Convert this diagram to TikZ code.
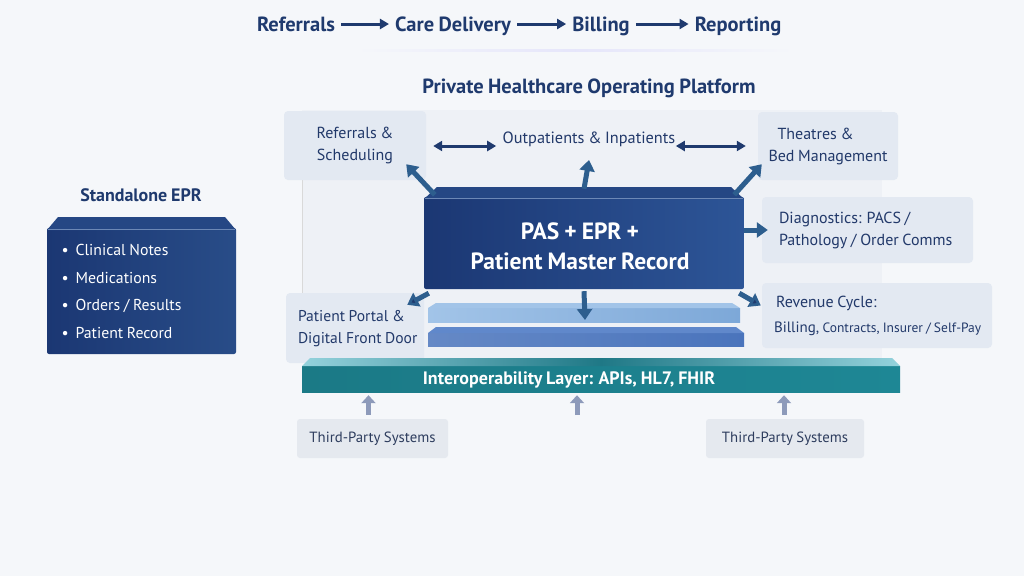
\documentclass[tikz,border=0pt]{standalone}
\usepackage{fontspec}
\setmainfont{PT Sans}[WordSpace=0.85]
\usetikzlibrary{arrows.meta,calc}
\definecolor{bgc}{HTML}{F5F7FA}
\definecolor{panelc}{HTML}{EEF1F6}
\definecolor{navy}{HTML}{1F3A6E}
\definecolor{boxc}{HTML}{E3E9F2}
\definecolor{boxtxt}{HTML}{22396A}
\definecolor{blkL}{HTML}{1B3773}
\definecolor{blkR}{HTML}{2D5597}
\definecolor{blktop}{HTML}{254784}
\definecolor{steel}{HTML}{2D5E8E}
\definecolor{slabA}{HTML}{7DA8D8}
\definecolor{slabAt}{HTML}{A2C4E8}
\definecolor{slabB}{HTML}{4A74BC}
\definecolor{slabBt}{HTML}{6088CB}
\definecolor{tealc}{HTML}{1E8795}
\definecolor{tealL}{HTML}{94D2DC}
\definecolor{tealD}{HTML}{1F7886}
\definecolor{grayarr}{HTML}{8D9ABA}
\definecolor{tpbox}{HTML}{E5E9EF}
\definecolor{tptxt}{HTML}{2E3D5E}
\begin{document}
\begin{tikzpicture}[x=1pt,y=-1pt,
  flow/.style={font=\fontsize{20.5}{22}\selectfont\bfseries, text=navy, inner sep=6pt, text height=14.5pt, text depth=0pt},
  flowarrow/.style={draw=navy, line width=3pt, -{Triangle[length=9pt,width=10pt]}},
  heading/.style={font=\fontsize{20.5}{24}\selectfont\bfseries, text=navy},
  lbox/.style={fill=boxc, rounded corners=4pt, text=boxtxt, font=\fontsize{16}{22}\selectfont},
  btxt/.style={text=boxtxt, font=\fontsize{16}{22}\selectfont, align=left, anchor=west, inner sep=0pt},
  dbl/.style={draw=navy, line width=3pt, {Triangle[length=9pt,width=10pt]}-{Triangle[length=9pt,width=10pt]}},
  thick arrow/.style={draw=steel, line width=5pt, -{Triangle[length=11pt,width=15pt]}},
  dark arrow/.style={draw=steel, line width=5pt, -{Triangle[length=11pt,width=15pt,fill=navy]}},
  gray arrow/.style={draw=grayarr, line width=5pt, -{Triangle[length=8pt,width=14pt]}},
  tp/.style={fill=tpbox, rounded corners=3pt, text=tptxt, font=\fontsize{14.8}{16}\selectfont, minimum height=39pt},
  whitebig/.style={text=white, font=\fontsize{23.5}{30}\selectfont\bfseries, align=center}
]
\useasboundingbox (0,0) rectangle (1024,576);
\fill[bgc] (0,0) rectangle (1024,576);

% top flow
\node[flow] (f1) at (296,24) {Referrals};
\node[flow] (f2) at (453,24) {Care Delivery};
\node[flow] (f3) at (601,24) {Billing};
\node[flow] (f4) at (738,24) {Reporting};
\draw[flowarrow] (f1) -- (f2);
\draw[flowarrow] (f2) -- (f3);
\draw[flowarrow] (f3) -- (f4);
\fill[left color=bgc, right color=bgc, middle color=black!18!blue!10] (355,49) rectangle (795,51.5);

\node[heading] (title) at (589,88) {Private Healthcare Operating Platform};

% platform panel
\fill[panelc] (302,110) rectangle (882,362);
\draw[black!15, line width=1pt] (302,180) -- (302,298);

% boxes around
\node[lbox, minimum width=142pt, minimum height=69pt, align=center] (ref) at (355,145.5) {Referrals \&\\Scheduling};
\node[lbox, minimum width=140pt, minimum height=68pt, align=left] (thr) at (828,146) {\hspace*{9pt}Theatres \&\\Bed Management};
\node[text=boxtxt, font=\fontsize{16.3}{20}\selectfont] (op) at (589,139) {Outpatients \& Inpatients};
\draw[dbl] ($(ref.east)+(7,0.5)$) -- ($(op.west)+(-3,7)$);
\draw[dbl] ($(op.east)+(-3,7)$) -- ($(thr.west)+(-12,0)$);

\node[lbox, minimum width=211pt, minimum height=66pt] (diag) at (867.5,230) {};
\node[btxt] (diagt) at ($(diag.west)+(17,0)$) {Diagnostics: PACS /\\Pathology / Order Comms};
\node[lbox, minimum width=138pt, minimum height=70pt] (portal) at (355,328) {};
\node[btxt, font=\fontsize{15.6}{22}\selectfont] (portalt) at ($(portal.west)+(12,1)$) {Patient Portal \&\\Digital Front Door};
\node[lbox, minimum width=230pt, minimum height=65pt] (rev) at (877,315.5) {};
\node[btxt, font=\fontsize{16}{25}\selectfont] (revt) at ($(rev.west)+(12,0)$) {\hspace*{2pt}Revenue Cycle:\\{\fontsize{15}{18}\selectfont Billing, \fontsize{13.5}{18}\selectfont Contracts, Insurer / Self-Pay}};

% central block shapes
\shade[left color=blkL, right color=blkR, rounded corners=2pt] (424,197) rectangle (744,289);
\fill[blktop] (424,199) -- (437,187) -- (731,187) -- (744,199) -- cycle;
\draw[blkR!70!white, line width=1pt] (425,198.5) -- (743,198.5);
\node[minimum width=320pt, minimum height=102pt] (pas) at (584,240) {};
\node[whitebig] (past) at (580,246) {PAS + EPR +\\Patient Master Record};

% slabs
\shade[left color=slabAt, right color=slabA] (428,308) rectangle (740,322);
\fill[slabAt] (428,308) -- (436,303) -- (732,303) -- (740,308) -- cycle;
\coordinate (slab) at (585,320);
\shade[left color=slabB!85!white, right color=slabB] (428,333) rectangle (744,346);
\fill[slabBt] (428,333) -- (436,327) -- (736,327) -- (744,333) -- cycle;

% arrows from block
\draw[thick arrow] ($(pas.north west)+(11,6)$) -- ($(ref.south east)+(-20,-16)$);
\draw[thick arrow] (pas.north) -- ($(op.south)+(0,10)$);
\draw[thick arrow] ($(pas.north east)+(-10,6)$) -- ($(thr.south west)+(4,-16)$);
\draw[thick arrow] (pas.east |- diag.west) -- ($(diag.west)+(6,0)$);
\draw[dark arrow] ($(pas.south west)+(5,2)$) -- ($(portal.north east)+(-17,12)$);
\draw[thick arrow] (pas.south) -- (slab);
\draw[dark arrow] ($(pas.south east)+(-5,2)$) -- ($(rev.west)+(-1,-10)$);

% interoperability bar
\shade[left color=tealc!90!black, right color=tealc] (302,366) rectangle (900,392);
\shade[left color=tealL, right color=tealL, middle color=tealD] (302,366) -- (310,358) -- (892,358) -- (900,366) -- cycle;
\node[minimum width=598pt, minimum height=34pt, inner sep=0pt] (iop) at (601,375) {};
\node[text=white, font=\fontsize{18}{20}\selectfont\bfseries] (iopt) at (569,380) {Interoperability Layer: APIs, HL7, FHIR};

% third-party
\node[tp, minimum width=151pt] (tp1) at (372.5,438.5) {Third-Party Systems};
\node[tp, minimum width=158pt] (tp2) at (785,438.5) {Third-Party Systems};
\coordinate (mid) at (577,415);
\draw[gray arrow] ($(tp1.north)+(-4,-4)$) -- ($(tp1.north |- iop.south)+(-4,3)$);
\draw[gray arrow] (mid) -- ($(mid |- iop.south)+(0,3)$);
\draw[gray arrow] ($(tp2.north)+(-1,-4)$) -- ($(tp2.north |- iop.south)+(-1,3)$);

% standalone EPR
\node[heading, font=\fontsize{18}{20}\selectfont\bfseries] (sat) at (141,195) {Standalone EPR};
\shade[left color=blkL, right color=blkR!90!black, rounded corners=2pt] (47,228) rectangle (236,354);
\fill[blktop] (47,230) -- (58,217) -- (225,217) -- (236,230) -- cycle;
\draw[blkR!70!white, line width=0.8pt] (48,229.5) -- (235,229.5);
\node[text=white, font=\fontsize{15.8}{27.7}\selectfont, align=left, anchor=west] (sal) at (58,291.5)
 {\makebox[14pt][l]{\textbullet}Clinical Notes\\\makebox[14pt][l]{\textbullet}Medications\\\makebox[14pt][l]{\textbullet}Orders / Results\\\makebox[14pt][l]{\textbullet}Patient Record};
\end{tikzpicture}
\end{document}
